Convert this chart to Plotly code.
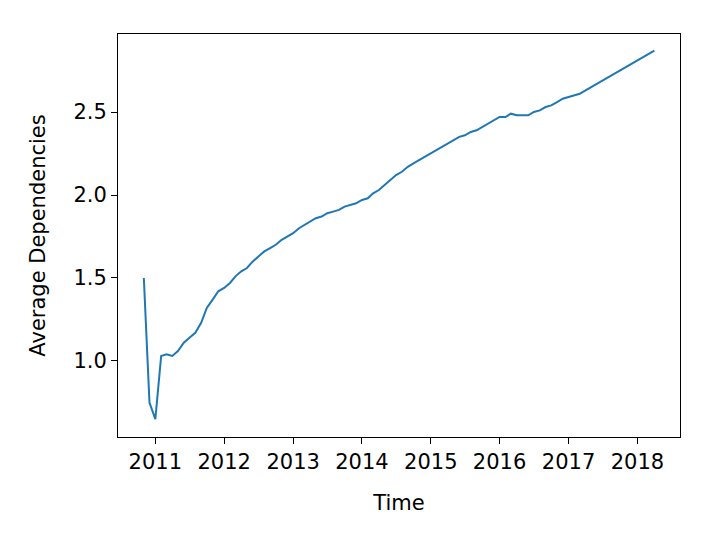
import plotly.graph_objects as go

# monthly average dependencies
start_year = 2010
start_month = 11
avg_deps = [
    1.50, 0.75, 0.65, 1.03, 1.04, 1.03, 1.06, 1.11, 1.14, 1.17, 1.23, 1.32,
    1.37, 1.42, 1.44, 1.47, 1.51, 1.54, 1.56, 1.60, 1.63, 1.66, 1.68, 1.70,
    1.73, 1.75, 1.77, 1.80, 1.82, 1.84, 1.86, 1.87, 1.89, 1.90, 1.91, 1.93,
    1.94, 1.95, 1.97, 1.98, 2.01, 2.03, 2.06, 2.09, 2.12, 2.14, 2.17, 2.19,
    2.21, 2.23, 2.25, 2.27, 2.29, 2.31, 2.33, 2.35, 2.36, 2.38, 2.39, 2.41,
    2.43, 2.45, 2.47, 2.47, 2.49, 2.48, 2.48, 2.48, 2.50, 2.51, 2.53, 2.54,
    2.56, 2.58, 2.59, 2.60, 2.61, 2.63, 2.65, 2.67, 2.69, 2.71, 2.73, 2.75,
    2.77, 2.79, 2.81, 2.83, 2.85, 2.87,
]

dates = []
y, m = start_year, start_month
for _ in avg_deps:
    dates.append(f"{y}-{m:02d}-01")
    m += 1
    if m > 12:
        m, y = 1, y + 1

fig = go.Figure(go.Scatter(x=dates, y=avg_deps, mode="lines",
                           line=dict(color="#1f77b4", width=2)))

axis_common = dict(showgrid=False, zeroline=False, showline=True, mirror=True,
                   linecolor="black", linewidth=1, ticks="outside", ticklen=6,
                   tickcolor="black", tickfont=dict(size=21, color="black"))

fig.update_layout(
    width=720, height=540,
    paper_bgcolor="white", plot_bgcolor="white",
    font=dict(family="DejaVu Sans", color="black"),
    margin=dict(l=110, r=48, t=26, b=111),
    showlegend=False,
    xaxis=dict(axis_common, type="date", range=["2010-06-17", "2018-08-15"],
               dtick="M12", tick0="2011-01-01", tickformat="%Y",
               title=dict(text="Time", font=dict(size=21), standoff=22)),
    yaxis=dict(axis_common, range=[0.542, 2.97], tickvals=[1.0, 1.5, 2.0, 2.5],
               ticktext=["1.0", "1.5", "2.0", "2.5"],
               title=dict(text="Average Dependencies", font=dict(size=21), standoff=22)),
)

fig.write_html("out.html")
